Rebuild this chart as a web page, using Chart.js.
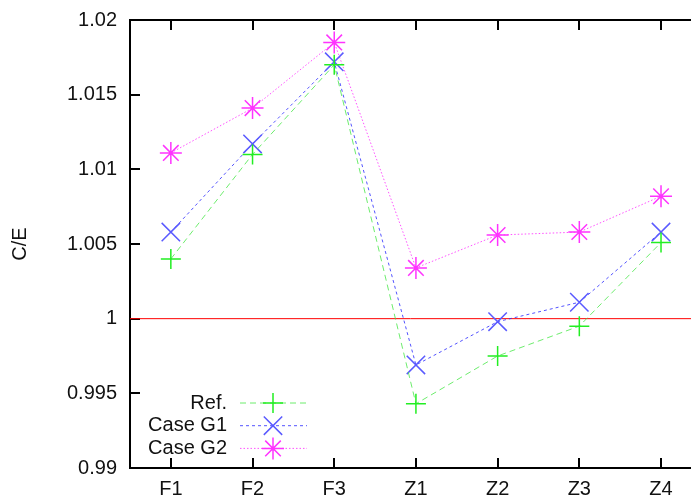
<!DOCTYPE html>
<html>
<head>
<meta charset="utf-8">
<script src="https://cdn.jsdelivr.net/npm/chart.js@4.4.1/dist/chart.umd.min.js"></script>
<style>
  html, body { margin: 0; padding: 0; background: #fff; overflow: hidden; }
  #wrap { position: relative; width: 691px; height: 495px; overflow: hidden; }
  canvas { display: block; }
</style>
</head>
<body>
<div id="wrap">
  <canvas id="chart" width="691" height="495" style="width:691px;height:495px"></canvas>
</div>
<script>
// C/E je Fall: Ref., Case G1, Case G2
const categories = ['F1', 'F2', 'F3', 'Z1', 'Z2', 'Z3', 'Z4'];
const refValues = [1.0040, 1.0110, 1.0170, 0.9943, 0.9975, 0.9995, 1.0051];
const g1Values = [1.0058, 1.0117, 1.0172, 0.9969, 0.9998, 1.0011, 1.0058];
const g2Values = [1.0111, 1.0141, 1.0185, 1.0034, 1.0056, 1.0058, 1.0082];
const yTickValues = [0.99, 0.995, 1, 1.005, 1.01, 1.015, 1.02];
const yTickLabels = ['0.99', '0.995', '1', '1.005', '1.01', '1.015', '1.02'];
const refLevel = 1;
const xMin = 0.5, xMax = 7.367; // rechter Rand liegt ausserhalb des Bildes

const FONT = { family: '"Liberation Sans", Arial, sans-serif', size: 20 };
const TEXT = '#111';

const series = [
  { label: 'Ref.', data: refValues, line: 'rgba(60,230,60,0.75)', mark: '#22ee22', dash: [6, 4], style: 'cross', r: 10 },
  { label: 'Case G1', data: g1Values, line: 'rgba(40,40,255,0.8)', mark: '#5a5aff', dash: [3, 3], style: 'crossRot', r: 13 },
  { label: 'Case G2', data: g2Values, line: 'rgba(255,40,255,0.8)', mark: '#ff33ff', dash: [1.5, 2], style: 'star', r: 11 }
];

const toXY = (arr) => arr.map((v, i) => ({ x: i + 1, y: v }));
const catTicks = (s) => { s.ticks = categories.map((c, i) => ({ value: i + 1 })); };
// gnuplot-artige Achse: Rahmenlinie + nach innen zeigende Ticks
const frameGrid = { display: true, drawOnChartArea: false, drawTicks: true, tickLength: -10, color: '#000', lineWidth: 2 };
const frameBorder = { display: true, color: '#000', width: 2 };

// Legende unten links im Plot
const legendBox = {
  id: 'legendBox',
  afterDraw(chart) {
    const { ctx } = chart;
    ctx.save();
    ctx.font = `${FONT.size}px ${FONT.family}`;
    ctx.textAlign = 'right';
    ctx.textBaseline = 'middle';
    series.forEach((s, i) => {
      const yy = 403 + i * 22.7;
      ctx.fillStyle = TEXT;
      ctx.fillText(s.label, 227, yy);
      ctx.strokeStyle = s.line;
      ctx.lineWidth = 1;
      ctx.setLineDash(s.dash);
      ctx.beginPath(); ctx.moveTo(240, yy); ctx.lineTo(307, yy); ctx.stroke();
      ctx.setLineDash([]);
      ctx.strokeStyle = s.mark;
      ctx.fillStyle = s.mark;
      ctx.lineWidth = 1.5;
      Chart.helpers.drawPoint(ctx, { pointStyle: s.style, radius: s.r, rotation: 0, borderWidth: 1.5 }, 273, yy);
    });
    ctx.restore();
  }
};

const datasets = series.map((s) => ({
  label: s.label,
  data: toXY(s.data),
  borderColor: s.line,
  borderWidth: 1,
  borderDash: s.dash,
  pointStyle: s.style,
  pointRadius: s.r,
  pointBorderColor: s.mark,
  pointBackgroundColor: s.mark,
  pointBorderWidth: 1.5,
  tension: 0,
  fill: false,
  order: 1
}));
// Referenzlinie C/E = 1
datasets.push({
  label: 'ref',
  data: [{ x: xMin, y: refLevel }, { x: xMax, y: refLevel }],
  borderColor: '#ff0000',
  borderWidth: 1,
  pointRadius: 0,
  order: 2
});

new Chart(document.getElementById('chart'), {
  type: 'line',
  data: { datasets },
  options: {
    responsive: false, animation: false, devicePixelRatio: 1,
    layout: { autoPadding: false, padding: { top: 20, right: 0, bottom: 0, left: 0 } },
    plugins: { legend: { display: false }, tooltip: { enabled: false } },
    scales: {
      x: {
        type: 'linear', min: xMin, max: xMax,
        afterBuildTicks: catTicks,
        afterFit: (s) => { s.height = 27; s.paddingLeft = 0; s.paddingRight = 0; },
        ticks: { autoSkip: false, maxRotation: 0, padding: 19, color: TEXT, font: FONT, callback: (v) => categories[v - 1] },
        grid: frameGrid,
        border: frameBorder
      },
      xTop: {
        type: 'linear', position: 'top', min: xMin, max: xMax,
        afterBuildTicks: catTicks,
        afterFit: (s) => { s.height = 0; s.paddingLeft = 0; s.paddingRight = 0; },
        ticks: { display: false },
        grid: frameGrid,
        border: frameBorder
      },
      y: {
        min: 0.99, max: 1.02,
        afterBuildTicks: (s) => { s.ticks = yTickValues.map((v) => ({ value: v })); },
        afterFit: (s) => { s.width = 130; s.paddingTop = 0; s.paddingBottom = 0; },
        ticks: { padding: 23, color: TEXT, font: FONT, callback: (v) => yTickLabels[yTickValues.indexOf(v)] },
        grid: frameGrid,
        border: frameBorder,
        title: { display: true, text: 'C/E', color: TEXT, font: FONT, padding: { top: 8, bottom: 0 } }
      }
    }
  },
  plugins: [legendBox]
});
</script>
</body>
</html>
